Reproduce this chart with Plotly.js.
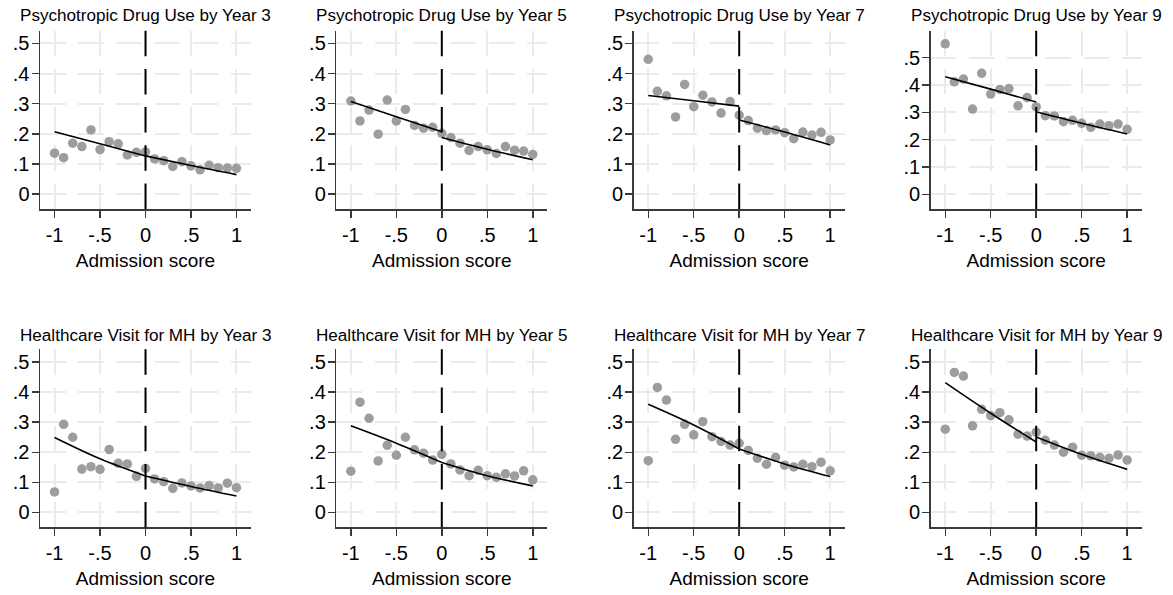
<!DOCTYPE html>
<html>
<head>
<meta charset="utf-8">
<script src="https://cdn.plot.ly/plotly-3.0.1.min.js"></script>
<style>
  html, body { margin: 0; padding: 0; background: #ffffff; }
  #chart { width: 1173px; height: 595px; }
</style>
</head>
<body>
<div id="chart"></div>
<script>
// ---- Data ----
const binX = [-1, -0.9, -0.8, -0.7, -0.6, -0.5, -0.4, -0.3, -0.2, -0.1, 0, 0.1, 0.2, 0.3, 0.4, 0.5, 0.6, 0.7, 0.8, 0.9, 1];

const psychY3 = [0.136, 0.121, 0.169, 0.158, 0.213, 0.148, 0.174, 0.167, 0.130, 0.139, 0.140, 0.117, 0.111, 0.092, 0.108, 0.094, 0.081, 0.096, 0.088, 0.087, 0.086];
const psychY5 = [0.309, 0.243, 0.279, 0.199, 0.312, 0.243, 0.281, 0.228, 0.219, 0.222, 0.202, 0.188, 0.169, 0.145, 0.158, 0.147, 0.135, 0.158, 0.146, 0.143, 0.132];
const psychY7 = [0.447, 0.341, 0.326, 0.256, 0.364, 0.290, 0.328, 0.306, 0.269, 0.307, 0.262, 0.244, 0.219, 0.211, 0.213, 0.204, 0.184, 0.206, 0.196, 0.205, 0.180];
const psychY9 = [0.551, 0.412, 0.422, 0.312, 0.443, 0.367, 0.384, 0.387, 0.324, 0.354, 0.320, 0.288, 0.287, 0.266, 0.271, 0.260, 0.245, 0.257, 0.251, 0.257, 0.238];
const mhY3 = [0.068, 0.293, 0.250, 0.144, 0.152, 0.143, 0.209, 0.163, 0.161, 0.120, 0.146, 0.111, 0.102, 0.080, 0.098, 0.088, 0.081, 0.089, 0.081, 0.097, 0.082];
const mhY5 = [0.137, 0.367, 0.313, 0.171, 0.223, 0.190, 0.250, 0.208, 0.197, 0.174, 0.193, 0.161, 0.141, 0.122, 0.140, 0.122, 0.117, 0.128, 0.121, 0.138, 0.108];
const mhY7 = [0.172, 0.416, 0.374, 0.243, 0.293, 0.258, 0.302, 0.252, 0.236, 0.224, 0.230, 0.206, 0.180, 0.160, 0.183, 0.157, 0.151, 0.160, 0.152, 0.167, 0.138];
const mhY9 = [0.277, 0.466, 0.454, 0.288, 0.343, 0.322, 0.332, 0.308, 0.260, 0.254, 0.267, 0.240, 0.224, 0.200, 0.217, 0.190, 0.188, 0.183, 0.180, 0.191, 0.174];

// fitted lines, left and right of the cutoff
const fitXLeft = [-1, -0.5, 0];
const fitXRight = [0, 0.5, 1];
const psychY3FitL = [0.207, 0.167, 0.127], psychY3FitR = [0.127, 0.095, 0.065];
const psychY5FitL = [0.307, 0.257, 0.207], psychY5FitR = [0.188, 0.149, 0.114];
const psychY7FitL = [0.327, 0.310, 0.292], psychY7FitR = [0.246, 0.206, 0.163];
const psychY9FitL = [0.430, 0.385, 0.338], psychY9FitR = [0.302, 0.260, 0.221];
const mhY3FitL = [0.249, 0.178, 0.121], mhY3FitR = [0.121, 0.086, 0.054];
const mhY5FitL = [0.288, 0.230, 0.166], mhY5FitR = [0.166, 0.122, 0.088];
const mhY7FitL = [0.360, 0.291, 0.211], mhY7FitR = [0.211, 0.161, 0.119];
const mhY9FitL = [0.432, 0.330, 0.234], mhY9FitR = [0.251, 0.193, 0.143];

const panelTitles = [
  "Psychotropic Drug Use by Year 3", "Psychotropic Drug Use by Year 5",
  "Psychotropic Drug Use by Year 7", "Psychotropic Drug Use by Year 9",
  "Healthcare Visit for MH by Year 3", "Healthcare Visit for MH by Year 5",
  "Healthcare Visit for MH by Year 7", "Healthcare Visit for MH by Year 9"
];
const xTickVals = [-1, -0.5, 0, 0.5, 1];
const xTickText = ["-1", "-.5", "0", ".5", "1"];
const yTickVals = [0, 0.1, 0.2, 0.3, 0.4, 0.5];
const yTickText = ["0", ".1", ".2", ".3", ".4", ".5"];
const xAxisTitle = "Admission score";

// ---- Build ----
const panels = [
  [psychY3, psychY3FitL, psychY3FitR],
  [psychY5, psychY5FitL, psychY5FitR],
  [psychY7, psychY7FitL, psychY7FitR],
  [psychY9, psychY9FitL, psychY9FitR],
  [mhY3, mhY3FitL, mhY3FitR],
  [mhY5, mhY5FitL, mhY5FitR],
  [mhY7, mhY7FitL, mhY7FitR],
  [mhY9, mhY9FitL, mhY9FitR]
];

const W = 1173, H = 595;
const colPx = [[40, 251], [336.3, 547.3], [633.7, 844.7], [930.7, 1141.7]];
const rowPx = [[30.7, 209.3], [349.3, 527.3]];
const yRanges = [[-0.05, 0.542], [-0.05, 0.542], [-0.05, 0.542], [-0.055, 0.599],
                 [-0.05, 0.543], [-0.05, 0.543], [-0.05, 0.543], [-0.05, 0.543]];

const FONT = "'Liberation Sans', Arial, Helvetica, sans-serif";
const AXC = "#3a3a3a";
const GRID = "#ebebeb";
const GDASH = "25.5px,12.7px";

const traces = [];
const layout = {
  width: W, height: H,
  margin: {l: 0, r: 0, t: 0, b: 0},
  paper_bgcolor: "#ffffff", plot_bgcolor: "#ffffff",
  showlegend: false,
  font: {family: FONT, color: "#000000"},
  annotations: [], shapes: []
};

panels.forEach((p, i) => {
  const n = i + 1;
  const xa = n === 1 ? "x" : "x" + n;
  const ya = n === 1 ? "y" : "y" + n;
  const r = Math.floor(i / 4), c = i % 4;
  const xd = [colPx[c][0] / W, colPx[c][1] / W];
  const yd = [1 - rowPx[r][1] / H, 1 - rowPx[r][0] / H];

  traces.push({
    x: binX, y: p[0], xaxis: xa, yaxis: ya, type: "scatter", mode: "markers",
    marker: {color: "#9d9d9d", size: 9.5, line: {width: 0}}, hoverinfo: "x+y"
  });
  traces.push({
    x: fitXLeft, y: p[1], xaxis: xa, yaxis: ya, type: "scatter", mode: "lines",
    line: {color: "#000000", width: 1.6, shape: "spline"}
  });
  traces.push({
    x: fitXRight, y: p[2], xaxis: xa, yaxis: ya, type: "scatter", mode: "lines",
    line: {color: "#000000", width: 1.6, shape: "spline"}
  });

  const common = {
    showline: true, linecolor: AXC, linewidth: 1.5,
    ticks: "outside", ticklen: 7, tickwidth: 1.5, tickcolor: AXC,
    showgrid: true, gridcolor: GRID, gridwidth: 2, griddash: GDASH,
    zeroline: false, fixedrange: true,
    tickfont: {family: FONT, size: 20, color: "#000000"}
  };
  layout["xaxis" + (n === 1 ? "" : n)] = Object.assign({}, common, {
    domain: xd, anchor: ya, range: [-1.16, 1.16],
    tickmode: "array", tickvals: xTickVals, ticktext: xTickText,
    title: {text: xAxisTitle, font: {family: FONT, size: 19, color: "#000000"}, standoff: 9}
  });
  layout["yaxis" + (n === 1 ? "" : n)] = Object.assign({}, common, {
    domain: yd, anchor: xa, range: yRanges[i],
    tickmode: "array", tickvals: yTickVals, ticktext: yTickText,
    ticklabelstandoff: -2
  });

  layout.shapes.push({
    type: "line", xref: xa, yref: ya + " domain",
    x0: 0, x1: 0, y0: 1, y1: 0,
    line: {color: "#000000", width: 2, dash: GDASH}
  });

  layout.annotations.push({
    text: panelTitles[i], xref: "paper", yref: "paper",
    x: (xd[0] + xd[1]) / 2, y: 1 - (r === 0 ? 15 : 335) / H,
    xanchor: "center", yanchor: "middle", showarrow: false,
    font: {family: FONT, size: 17.1, color: "#000000"}
  });
});

Plotly.newPlot("chart", traces, layout, {staticPlot: true, displayModeBar: false});
</script>
</body>
</html>
